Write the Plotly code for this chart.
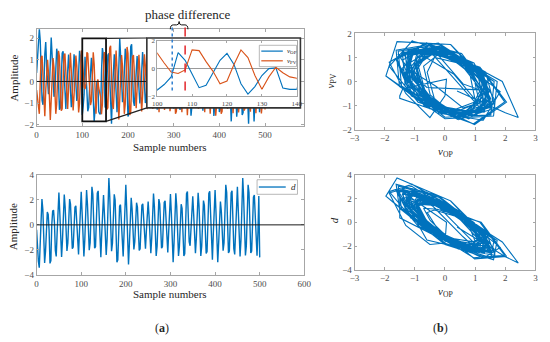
import plotly.graph_objects as go

# ---------------- data (every 2nd sample) ----------------
sample_numbers = list(range(0, 501, 2))

v_op = [
    0.4, 1.3, 2.0, 2.43, 1.9, 0.26, -0.88, -1.08, -0.28, 1.27, 1.83, 0.68, -0.35, -0.59, -0.28, 0.98, 2.04, 1.20, -0.26, -0.71, -0.49, 0.40, 1.52, 1.23, -0.18,
    -1.31, -1.22, 0.0, 1.31, 1.40, 0.19, -1.03, -1.27, -0.33, 0.87, 1.25, 0.47, -0.70, -1.19, -0.57, 0.61, 1.26, 0.74, -0.34, -0.90, -0.63, 0.37, 1.42, 1.15, -0.19,
    -1.55, -1.15, -0.6, 1.15, 0.6, -0.4, -1.38, -1.2, -0.3, 0.6, 1.1, 0.3, -1.1, -1.85, -1.3, -0.5, 0.0, 0.05, -1.4, -1.5, -1.5, 0.41, 1.55, 1.26, -0.17,
    -1.21, -1.13, 0.0, 1.22, 1.30, 0.18, -1.59, -1.96, -0.51, 0.88, 1.26, 0.47, -0.83, -1.42, -0.68, 0.95, 1.98, 1.16, -0.36, -0.96, -0.67, 0.40, 1.52, 1.23, -0.22,
    -1.62, -1.51, 0.0, 1.61, 1.73, 0.24, -0.92, -1.13, -0.30, 0.82, 1.18, 0.44, -0.60, -1.02, -0.49, 0.66, 1.36, 0.80, -0.38, -1.00, -0.70, 0.30, 1.14, 0.93, -0.13,
    -0.95, -0.89, 0.0, 1.15, 1.23, 0.17, -1.06, -1.31, -0.34, 1.04, 1.49, 0.56, -0.70, -1.19, -0.57, 0.60, 1.24, 0.73, -0.43, -1.15, -0.80, 0.35, 1.32, 1.07, -0.17,
    -1.25, -1.16, 0.0, 1.52, 1.63, 0.23, -1.07, -1.32, -0.35, 1.04, 1.49, 0.56, -0.56, -0.95, -0.46, 0.79, 1.64, 0.96, -0.60, -1.59, -1.11, 0.26, 1.01, 0.82, -0.16,
    -1.16, -1.08, 0.0, 1.15, 1.23, 0.17, -1.09, -1.35, -0.35, 1.04, 1.49, 0.56, -0.66, -1.12, -0.54, 0.73, 1.52, 0.89, -0.60, -1.60, -1.12, 0.44, 1.66, 1.35, -0.20,
    -1.41, -1.32, 0.0, 1.52, 1.63, 0.23, -0.79, -0.97, -0.25, 0.86, 1.24, 0.46, -1.09, -1.85, -0.89, 0.72, 1.49, 0.88, -0.61, -1.63, -1.14, 0.37, 1.42, 1.15, -0.21,
    -1.55, -1.44, 0.0, 1.28, 1.38, 0.19, -1.59, -1.96, -0.51, 1.02, 1.46, 0.55, -1.09, -1.85, -0.89, 0.72, 1.49, 0.88, -0.53, -1.42, -0.99, 0.39, 1.48, 1.20, -0.6,
    1.3,
]

v_pv = [
    -0.4, -0.9, -1.3, -1.5, 0.0, 1.11, 1.19, 0.17, -1.30, -1.61, -0.42, 0.70, 1.00, 0.38, -1.05, -1.79, -0.86, 0.53, 1.09, 0.64, -0.56, -1.50, -1.05, 0.37, 1.42,
    1.15, -0.19, -1.36, -1.27, 0.0, 1.21, 1.29, 0.18, -1.03, -1.27, -0.33, 0.92, 1.33, 0.50, -0.79, -1.34, -0.65, 0.58, 1.20, 0.71, -0.54, -1.44, -1.01, 0.38, 1.44,
    1.12, 0.4, -0.25, -0.35, -0.1, 1.35, 1.3, 0.5, -0.2, -1.1, -0.9, 0.3, 1.35, 0.8, -0.5, -1.5, -0.6, 0.1, -0.3, -0.6, -0.7, -1.52, -1.06, 0.36, 1.36,
    1.10, -0.18, -1.30, -1.22, 0.0, 1.54, 1.66, 0.23, -1.04, -1.28, -0.34, 1.01, 1.44, 0.54, -1.03, -1.76, -0.85, 0.59, 1.23, 0.72, -0.56, -1.50, -1.05, 0.42, 1.60,
    1.30, -0.21, -1.55, -1.44, 0.0, 1.14, 1.22, 0.17, -1.00, -1.24, -0.32, 0.86, 1.24, 0.46, -0.82, -1.39, -0.67, 0.61, 1.26, 0.74, -0.48, -1.28, -0.89, 0.32, 1.21,
    0.98, -0.17, -1.26, -1.17, 0.0, 1.22, 1.31, 0.18, -1.15, -1.42, -0.37, 0.92, 1.33, 0.50, -0.78, -1.32, -0.64, 0.65, 1.34, 0.79, -0.52, -1.38, -0.97, 0.36, 1.38,
    1.12, -0.21, -1.49, -1.39, 0.0, 1.23, 1.32, 0.18, -1.15, -1.42, -0.37, 0.84, 1.20, 0.45, -0.92, -1.56, -0.75, 0.77, 1.59, 0.93, -0.45, -1.20, -0.84, 0.35, 1.33,
    1.08, -0.17, -1.26, -1.17, 0.0, 1.24, 1.33, 0.18, -1.15, -1.42, -0.37, 0.90, 1.29, 0.48, -0.88, -1.49, -0.72, 0.77, 1.59, 0.93, -0.60, -1.59, -1.11, 0.39, 1.47,
    1.20, -0.21, -1.49, -1.39, 0.0, 1.06, 1.14, 0.16, -1.03, -1.27, -0.33, 1.17, 1.68, 0.63, -0.86, -1.47, -0.71, 0.78, 1.61, 0.95, -0.54, -1.44, -1.01, 0.41, 1.55,
    1.26, -0.19, -1.35, -1.26, 0.0, 1.54, 1.66, 0.23, -1.13, -1.40, -0.37, 1.17, 1.68, 0.63, -0.86, -1.47, -0.71, 0.72, 1.49, 0.88, -0.56, -1.48, -1.03, 0.36, 1.40,
    -1.3,
]

d_sig = [
    -0.4, -1.8, -2.9, -3.43, -1.66, 1.00, 2.07, 1.22, -1.14, -3.04, -2.12, 0.27, 1.03, 0.83, -0.43, -3.08, -2.87, 0.0, 1.10, 1.18, 0.16, -2.05, -2.53, -0.66, 1.80,
    2.58, 0.97, -1.52, -2.57, -1.24, 1.17, 2.43, 1.43, -0.78, -2.08, -1.45, 0.54, 2.06, 1.67, -0.26, -1.90, -1.77, 0.0, 1.42, 1.52, 0.21, -1.91, -2.36, -0.62, 1.84,
    2.64, 0.99, -1.49, -2.52, -1.22, 1.35, 2.79, 1.65, -0.76, -2.03, -1.42, 0.80, 3.04, 2.47, -0.26, -1.87, -1.75, 0.0, 2.53, 2.72, 0.38, -2.09, -2.58, -0.67, 1.66,
    2.39, 0.89, -1.41, -2.40, -1.16, 1.81, 3.74, 2.21, -0.79, -2.10, -1.47, 0.64, 2.45, 1.99, -0.41, -2.99, -2.79, 0.0, 1.50, 1.61, 0.22, -2.05, -2.53, -0.66, 2.23,
    3.20, 1.20, -1.87, -3.17, -1.53, 1.05, 2.17, 1.28, -0.74, -1.96, -1.37, 0.46, 1.77, 1.43, -0.28, -2.05, -1.92, 0.0, 1.57, 1.68, 0.23, -1.54, -1.90, -0.50, 1.30,
    1.87, 0.70, -1.33, -2.27, -1.09, 1.21, 2.50, 1.47, -0.93, -2.48, -1.73, 0.54, 2.06, 1.67, -0.26, -1.87, -1.75, 0.0, 1.79, 1.92, 0.27, -1.79, -2.21, -0.58, 1.71,
    2.46, 0.92, -1.76, -2.99, -1.45, 1.22, 2.52, 1.49, -0.93, -2.48, -1.73, 0.43, 1.65, 1.33, -0.34, -2.48, -2.31, 0.0, 2.49, 2.67, 0.37, -1.36, -1.67, -0.44, 1.60,
    2.29, 0.86, -1.33, -2.27, -1.09, 1.24, 2.57, 1.52, -0.93, -2.48, -1.73, 0.51, 1.94, 1.57, -0.32, -2.29, -2.14, 0.0, 2.51, 2.69, 0.37, -2.25, -2.78, -0.73, 1.95,
    2.79, 1.05, -1.76, -2.99, -1.45, 0.90, 1.86, 1.09, -0.77, -2.06, -1.44, 0.84, 3.20, 2.59, -0.31, -2.24, -2.09, 0.0, 2.55, 2.73, 0.38, -1.91, -2.36, -0.62, 2.12,
    3.04, 1.14, -1.49, -2.52, -1.22, 1.81, 3.74, 2.21, -0.91, -2.44, -1.70, 0.84, 3.20, 2.59, -0.31, -2.24, -2.09, 0.0, 2.22, 2.38, 0.33, -2.00, -2.47, -0.65, 2.30,
    -2.6,
]

top_x_ticks = [0, 100, 200, 300, 400, 500]
bottom_x_ticks = [0, 100, 200, 300, 400, 500, 600]
inset_x_ticks = [100, 110, 120, 130, 140]
zoom_window = (100, 152, -1.85, 2.0)        # sample range / amplitude range of the zoom box
phase_marks = (104.3, 108.0)                # sample numbers of the two dashed markers
legend_inset = ["<i>v</i><sub>OP</sub>", "<i>v</i><sub>PV</sub>"]
legend_bottom = ["<i>d</i>"]

# ---------------- styling ----------------
W, H = 550, 342
BLUE = "#0072BD"
ORANGE = "#D95319"
FONT = "Liberation Serif, DejaVu Serif, serif"
FRAME = "#a6a6a6"
TICKC = "#4d4d4d"


def px(x):
    return x / W


def py(y):
    return 1 - y / H


def axis_style(**kw):
    base = dict(showline=True, linecolor=FRAME, linewidth=0.8, mirror="ticks",
                ticks="inside", ticklen=3, tickcolor=FRAME, tickwidth=0.8,
                showgrid=False, zeroline=False,
                tickfont=dict(family=FONT, size=9, color=TICKC))
    base.update(kw)
    return base


fig = go.Figure()

# top-left: time series
fig.add_trace(go.Scatter(x=sample_numbers, y=v_op, mode="lines", line=dict(color=BLUE, width=1.4),
                         xaxis="x", yaxis="y", showlegend=False))
fig.add_trace(go.Scatter(x=sample_numbers, y=v_pv, mode="lines", line=dict(color=ORANGE, width=1.4),
                         xaxis="x", yaxis="y", showlegend=False))
# bottom-left: d
fig.add_trace(go.Scatter(x=sample_numbers, y=d_sig, mode="lines", line=dict(color=BLUE, width=1.4),
                         xaxis="x2", yaxis="y2", showlegend=False))
# right: phase portraits
fig.add_trace(go.Scatter(x=v_op, y=v_pv, mode="lines", line=dict(color=BLUE, width=1.1),
                         xaxis="x3", yaxis="y3", showlegend=False))
fig.add_trace(go.Scatter(x=v_op, y=d_sig, mode="lines", line=dict(color=BLUE, width=1.1),
                         xaxis="x4", yaxis="y4", showlegend=False))
# cover (white panel behind the inset)
fig.add_trace(go.Scatter(x=[], y=[], xaxis="x5", yaxis="y5", showlegend=False))
# inset
fig.add_trace(go.Scatter(x=sample_numbers, y=v_op, mode="lines", line=dict(color=BLUE, width=1.1),
                         xaxis="x6", yaxis="y6", showlegend=False))
fig.add_trace(go.Scatter(x=sample_numbers, y=v_pv, mode="lines", line=dict(color=ORANGE, width=1.1),
                         xaxis="x6", yaxis="y6", showlegend=False))

LX = [px(32.3), px(306)]
RX = [px(357.3), px(542.3)]
top_yrange = [-2.08, 2.42]
top_xrange = [0, 586]
small_tick = dict(family=FONT, size=7, color=TICKC)

fig.update_layout(
    width=W, height=H, margin=dict(l=0, r=0, t=0, b=0),
    paper_bgcolor="white", plot_bgcolor="white", showlegend=False,
    font=dict(family=FONT, size=11, color="#262626"),
    xaxis=axis_style(domain=LX, range=top_xrange, tickvals=top_x_ticks, anchor="y"),
    yaxis=axis_style(domain=[py(125), py(25)], range=top_yrange, tickvals=[-2, -1, 0, 1, 2], anchor="x"),
    xaxis2=axis_style(domain=LX, range=[0, 600], tickvals=bottom_x_ticks, anchor="y2"),
    yaxis2=axis_style(domain=[py(278), py(175)], range=[-4, 4], tickvals=[-4, -2, 0, 2, 4], anchor="x2"),
    xaxis3=axis_style(domain=RX, range=[-3, 3], dtick=1, anchor="y3"),
    yaxis3=axis_style(domain=[py(128.3), py(29.3)], range=[-2, 2], dtick=1, anchor="x3"),
    xaxis4=axis_style(domain=RX, range=[-3, 3], dtick=1, anchor="y4"),
    yaxis4=axis_style(domain=[py(272.7), py(175)], range=[-4, 4], dtick=2, anchor="x4"),
    xaxis5=dict(domain=[px(145), px(302)], range=[0, 1], visible=False, anchor="y5"),
    yaxis5=dict(domain=[py(106), py(34)], range=[0, 1], visible=False, anchor="x5"),
    xaxis6=axis_style(domain=[px(155.6), px(298.3)], range=[100, 140], tickvals=inset_x_ticks,
                      anchor="y6", ticklen=2, tickfont=small_tick),
    yaxis6=axis_style(domain=[py(94), py(37)], range=[-2, 2], tickvals=[-2, 0, 2], anchor="x6",
                      ticklen=2, zeroline=True, zerolinecolor="#9a9a9a", zerolinewidth=0.8,
                      tickfont=small_tick),
)


# inset corner positions expressed in top-left data units
def top_data_x(pxx):
    return top_xrange[0] + (pxx - 32.3) / (306 - 32.3) * (top_xrange[1] - top_xrange[0])


def top_data_y(pyy):
    return top_yrange[1] - (pyy - 25) / (125 - 25) * (top_yrange[1] - top_yrange[0])


inset_t0 = top_data_x(145)
inset_ytop = top_data_y(34)
inset_ybot = top_data_y(106)
zt0, zt1, zy0, zy1 = zoom_window

shapes = [
    # zero lines
    dict(type="line", xref="x", yref="y", x0=0, x1=inset_t0, y0=0, y1=0,
         line=dict(color="#1a1a1a", width=1), layer="above"),
    dict(type="line", xref="x2", yref="y2", x0=0, x1=600, y0=0, y1=0,
         line=dict(color="#1a1a1a", width=1), layer="above"),
    # zoom box and connectors
    dict(type="rect", xref="x", yref="y", x0=zt0, x1=zt1, y0=zy0, y1=zy1,
         line=dict(color="#111111", width=1.8), layer="above"),
    dict(type="line", xref="x", yref="y", x0=zt1, x1=inset_t0, y0=zy1, y1=inset_ytop,
         line=dict(color="#222222", width=1.2), layer="above"),
    dict(type="line", xref="x", yref="y", x0=zt1, x1=inset_t0, y0=zy0, y1=inset_ybot,
         line=dict(color="#222222", width=1.2), layer="above"),
    # inset border
    dict(type="rect", xref="paper", yref="paper", x0=px(145), x1=px(302), y0=py(106), y1=py(34),
         line=dict(color="#333333", width=1.6), layer="above"),
    # phase difference markers
    dict(type="line", xref="x6", yref="paper", x0=phase_marks[0], x1=phase_marks[0], y0=py(88), y1=py(22),
         line=dict(color="#2f7fd0", width=1.5, dash="dot"), layer="above"),
    dict(type="line", xref="x6", yref="paper", x0=phase_marks[1], x1=phase_marks[1], y0=py(88), y1=py(22),
         line=dict(color="#e3262b", width=1.5, dash="dash"), layer="above"),
    # legend boxes (inset and bottom panel)
    dict(type="rect", xref="paper", yref="paper", x0=px(260), x1=px(298), y0=py(63.5), y1=py(41.5),
         line=dict(color="#9a9a9a", width=0.7), fillcolor="white", layer="above"),
    dict(type="line", xref="paper", yref="paper", x0=px(262), x1=px(284), y0=py(47.5), y1=py(47.5),
         line=dict(color=BLUE, width=1.2), layer="above"),
    dict(type="line", xref="paper", yref="paper", x0=px(262), x1=px(284), y0=py(57.5), y1=py(57.5),
         line=dict(color=ORANGE, width=1.2), layer="above"),
    dict(type="rect", xref="paper", yref="paper", x0=px(257.7), x1=px(299), y0=py(195), y1=py(180),
         line=dict(color="#9a9a9a", width=0.7), fillcolor="white", layer="above"),
    dict(type="line", xref="paper", yref="paper", x0=px(259.5), x1=px(287), y0=py(187.5), y1=py(187.5),
         line=dict(color=BLUE, width=1.3), layer="above"),
]

# curly brace above the markers
bx0, bx1, bmid = 169.0, 187.0, 178.0
brace = (f"M {px(bx0)} {py(25)} Q {px(bx0)} {py(20.5)} {px(bx0+3)} {py(20.5)} "
         f"L {px(bmid-2.5)} {py(20.5)} Q {px(bmid)} {py(20.5)} {px(bmid)} {py(17)} "
         f"Q {px(bmid)} {py(20.5)} {px(bmid+2.5)} {py(20.5)} "
         f"L {px(bx1-3)} {py(20.5)} Q {px(bx1)} {py(20.5)} {px(bx1)} {py(25)}")
shapes.append(dict(type="path", xref="paper", yref="paper", path=brace,
                   line=dict(color="#111111", width=1), layer="above"))
fig.update_layout(shapes=shapes)


def label(text, x, y, size=11, angle=0, xanchor="center"):
    return dict(text=text, x=px(x), y=py(y), xref="paper", yref="paper", showarrow=False,
                textangle=angle, font=dict(family=FONT, size=size, color="#262626"),
                xanchor=xanchor, yanchor="middle")


fig.update_layout(annotations=[
    label("phase difference", 187, 10, size=13),
    label("Amplitude", 9, 75, angle=-90),
    label("Amplitude", 9, 228, angle=-90),
    label("Sample numbers", 169, 146.5),
    label("Sample numbers", 169, 298),
    label("<i>v</i><sub>PV</sub>", 333, 78, angle=-90),
    label("<i>d</i>", 336, 222, angle=-90),
    label("<i>v</i><sub>OP</sub>", 450, 151),
    label("<i>v</i><sub>OP</sub>", 450, 296),
    label("(<b>a</b>)", 160, 333, size=12),
    label("(<b>b</b>)", 445, 333, size=12),
    label(legend_inset[0], 286, 47.5, size=7, xanchor="left"),
    label(legend_inset[1], 286, 57.5, size=7, xanchor="left"),
    label(legend_bottom[0], 290, 187.5, size=9, xanchor="left"),
])

# the page's default body margin would push the 550x342 figure off the window
fig.write_html("out.html", config={"displayModeBar": False},
               post_script="document.body.style.margin='0px';")
